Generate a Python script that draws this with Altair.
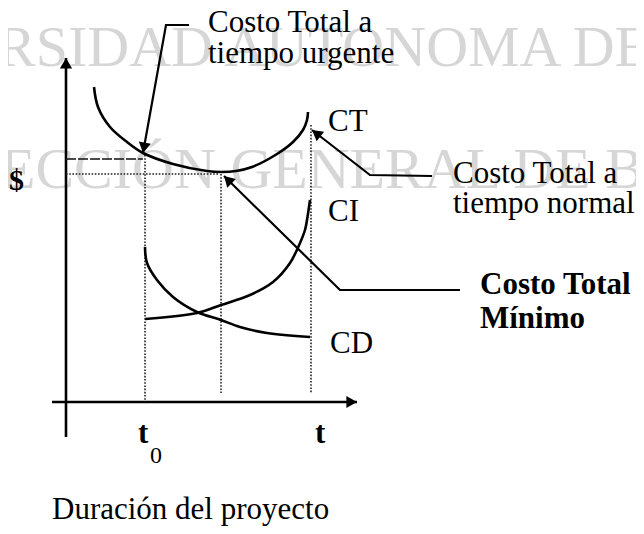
import math
import altair as alt
import pandas as pd

# ---------------- data (t = project duration units, c = cost units) ----------------
# Total cost curve CT
ct_t = [2.8, 3.2, 4.4, 6.1, 7.7, 10.7, 14.1, 15.5, 17.0, 18.6, 21.1, 22.7, 23.7, 24.1, 24.2]
ct_c = [31.5, 29.5, 27.5, 26.0, 24.9, 23.8, 23.1, 23.0, 23.1, 23.5, 24.8, 26.0, 27.2, 28.2, 29.0]
# Direct cost curve CD
cd_t = [7.9, 8.1, 9.1, 10.7, 13.1, 15.5, 17.4, 20.1, 24.4]
cd_c = [15.5, 13.9, 12.2, 10.5, 9.0, 8.2, 7.5, 6.9, 6.5]
# Indirect cost curve CI
ci_t = [7.9, 13.1, 15.5, 18.4, 20.7, 22.4, 23.4, 23.9, 24.1, 24.4]
ci_c = [8.3, 8.9, 9.7, 10.7, 12.0, 13.9, 15.9, 17.2, 18.2, 20.2]

# key durations and costs
t0 = 7.9          # urgent time
t_opt = 15.5      # optimum duration
t_n = 24.5        # normal time
c_urg = 24.3      # total cost at urgent time
c_min = 22.8      # minimum total cost
c_norm = 27.7     # total cost at normal time

# axes extents
y_axis_c = [-3.5, 34.4]
x_axis_t = [-1.4, 29.1]

# annotation leader lines (label end -> elbow -> arrow tip)
urg_t = [12.3, 10.0, 7.7]
urg_c = [37.7, 37.7, 24.9]
nor_t = [36.6, 30.4, 24.6]
nor_c = [22.6, 22.7, 27.2]
min_t = [39.4, 27.4, 15.8]
min_c = [11.2, 11.2, 22.6]

# labels
urg_lines = ["Costo Total a", "tiempo urgente"]
nor_lines = ["Costo Total a", "tiempo normal"]
min_lines = ["Costo Total", "Mínimo"]
curve_names = ["CT", "CI", "CD"]
watermark = ["RSIDAD AUTONOMA DE", "ECCIÓN GENERAL DE BIB"]

FONT = "Liberation Serif"
xs = alt.Scale(domain=[-5.8, 57.0], nice=False, zero=False)
ys = alt.Scale(domain=[-12.4, 39.4], nice=False, zero=False)
X = alt.X("x:Q", scale=xs, axis=None)
Y = alt.Y("y:Q", scale=ys, axis=None)


def lines_df(groups):
    rows = []
    for g, (tx, cy) in enumerate(groups):
        for i, (a, b) in enumerate(zip(tx, cy)):
            rows.append({"g": g, "o": i, "x": a, "y": b})
    return pd.DataFrame(rows)


def line_layer(groups, **kw):
    return alt.Chart(lines_df(groups)).mark_line(**kw).encode(
        x=X, y=Y, detail="g:N", order="o:Q")


def text_layer(rows, color="black", **kw):
    return alt.Chart(pd.DataFrame(rows)).mark_text(
        align="left", baseline="alphabetic", font=FONT, color=color, **kw
    ).encode(x=X, y=Y, text="text:N")


# watermark
wm = text_layer(
    [{"x": -6.9, "y": 33.6, "text": watermark[0]},
     {"x": -6.6, "y": 21.4, "text": watermark[1]}],
    color="#d6d6d6", fontSize=58, clip=True)

axes = line_layer([([0, 0], y_axis_c), (x_axis_t, [0, 0])],
                  color="black", strokeWidth=2.6)

dotted = line_layer([
    ([t0, t0], [c_urg + 0.4, 0]),
    ([t_opt, t_opt], [c_min, 0.9]),
    ([t_n, t_n], [c_norm, 0.9]),
    ([0, t_opt - 0.3], [c_min, c_min]),
], color="#222", strokeWidth=1.6, strokeDash=[1.6, 1.6])

dashed = line_layer([([0, t0 - 0.2], [c_urg, c_urg])],
                    color="#111", strokeWidth=1.6, strokeDash=[10, 2])

curves = line_layer([(ct_t, ct_c), (cd_t, cd_c), (ci_t, ci_c)],
                    color="black", strokeWidth=2.6, interpolate="catmull-rom")

leaders = line_layer([(urg_t, urg_c), (nor_t, nor_c), (min_t, min_c)],
                     color="black", strokeWidth=2.2)

# arrowheads
ARROW_SIZE = 150
h = math.sqrt(ARROW_SIZE) / 2 * math.sqrt(3) / 2 / 10.0  # half height in data units


def head(prev, tip):
    dx, dy = tip[0] - prev[0], tip[1] - prev[1]
    n = math.hypot(dx, dy)
    ang = math.degrees(math.atan2(dx, dy)) % 360
    return {"x": tip[0] - dx / n * h, "y": tip[1] - dy / n * h, "angle": ang}


heads = pd.DataFrame([
    head((0, y_axis_c[0]), (0, y_axis_c[1])),
    head((x_axis_t[0], 0), (x_axis_t[1], 0)),
    head((urg_t[1], urg_c[1]), (urg_t[2], urg_c[2])),
    head((nor_t[1], nor_c[1]), (nor_t[2], nor_c[2])),
    head((min_t[1], min_c[1]), (min_t[2], min_c[2])),
])
arrows = alt.Chart(heads).mark_point(
    shape="triangle-up", filled=True, color="black", opacity=1,
    size=ARROW_SIZE, strokeWidth=0
).encode(x=X, y=Y, angle=alt.Angle("angle:Q", scale=None))

labels = text_layer([
    {"x": 14.2, "y": 37.0, "text": urg_lines[0]},
    {"x": 14.2, "y": 33.9, "text": urg_lines[1]},
    {"x": 38.7, "y": 21.9, "text": nor_lines[0]},
    {"x": 38.7, "y": 18.9, "text": nor_lines[1]},
    {"x": 26.2, "y": 27.1, "text": curve_names[0]},
    {"x": 26.2, "y": 18.1, "text": curve_names[1]},
    {"x": 26.4, "y": 4.9, "text": curve_names[2]},
    {"x": -1.4, "y": -11.7, "text": "Duración del proyecto"},
], fontSize=31)

bold_labels = text_layer([
    {"x": 41.4, "y": 10.8, "text": min_lines[0]},
    {"x": 41.4, "y": 7.4, "text": min_lines[1]},
    {"x": 7.2, "y": -4.1, "text": "t"},
    {"x": 24.9, "y": -4.1, "text": "t"},
], fontSize=31, fontWeight="bold")

dollar = text_layer([{"x": -5.7, "y": 21.2, "text": "$"}],
                    fontSize=30, fontWeight="bold")
sub0 = text_layer([{"x": 8.4, "y": -6.1, "text": "0"}], fontSize=24)

chart = alt.layer(
    wm, axes, dotted, dashed, curves, leaders, arrows,
    labels, bold_labels, dollar, sub0
).properties(
    width=628, height=518, padding=0,
    autosize=alt.AutoSizeParams(type="none")
).configure_view(stroke=None)

chart.save("out.html", embed_options={"renderer": "svg", "actions": False})
